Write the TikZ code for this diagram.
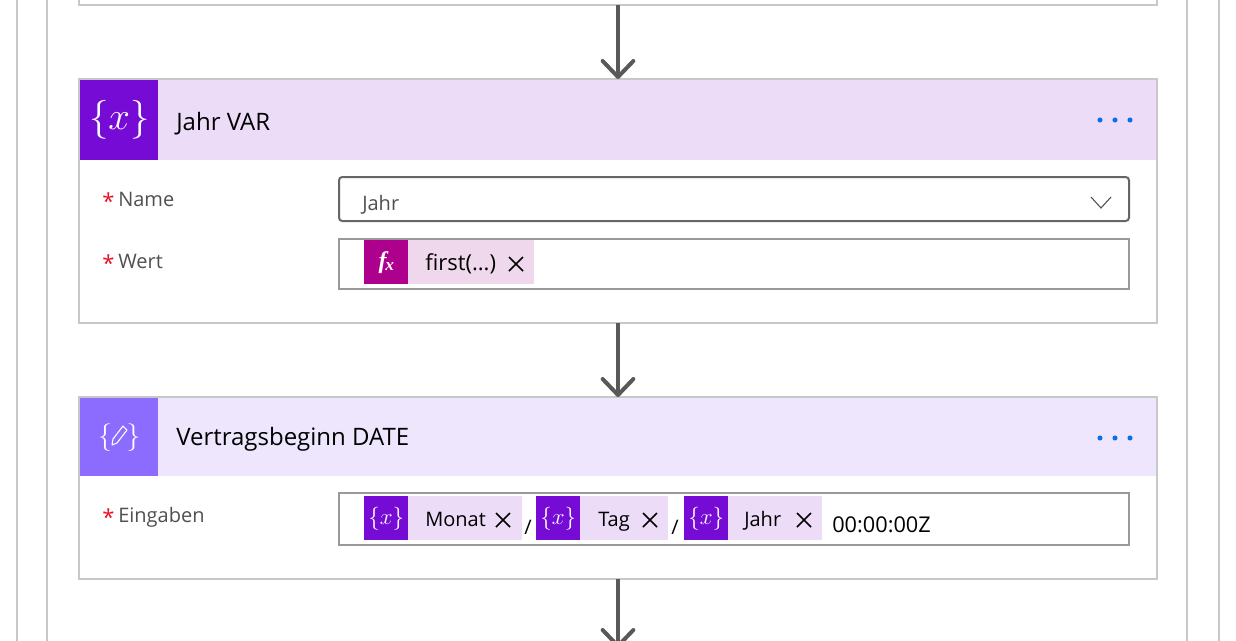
\documentclass[tikz,border=0pt]{standalone}
\usepackage{fontspec}
\setmainfont{Open Sans}
\newfontfamily\iconfont{Liberation Serif}
\usetikzlibrary{arrows.meta}
\definecolor{frameline}{HTML}{C8C8C8}
\definecolor{flowarrow}{HTML}{595959}
\definecolor{varhead}{HTML}{ECDCF8}
\definecolor{varicon}{HTML}{770BD6}
\definecolor{datehead}{HTML}{EDE6FD}
\definecolor{dateicon}{HTML}{8C6CFF}
\definecolor{fxicon}{HTML}{AD008C}
\definecolor{fxbody}{HTML}{F0D8EC}
\definecolor{labelgrey}{HTML}{505050}
\definecolor{starred}{HTML}{E81123}
\definecolor{dotblue}{HTML}{0F6FDE}
\begin{document}
\begin{tikzpicture}[x=0.75pt, y=-0.75pt,
	card/.style={draw=frameline, line width=1.5pt, fill=white, anchor=north west, inner sep=0pt, outer sep=0pt, minimum width=808.5pt},
	flow/.style={draw=flowarrow, line width=3pt, -{Straight Barb[length=12pt, width=23pt, round]}},
	title/.style={anchor=base west, font=\fontsize{18}{21}\selectfont, text=black, inner sep=0pt},
	field/.style={anchor=base west, font=\fontsize{15}{18}\selectfont, text=labelgrey, inner sep=0pt},
	value/.style={anchor=base west, font=\fontsize{15}{18}\selectfont, text=black, inner sep=0pt},
	star/.style={anchor=base west, font=\fontsize{16.5}{20}\selectfont, text=starred, inner sep=0pt},
	inputbox/.style={draw=#1, line width=1.5pt, anchor=north west, inner sep=0pt, outer sep=0pt, minimum width=592.5pt},
	tokenicon/.style={fill=#1, anchor=north west, inner sep=0pt, minimum width=33pt, minimum height=33pt, text=white},
	tokenbody/.style={fill=#1, anchor=north west, inner sep=0pt, minimum height=33pt},
	closex/.style={draw=black, line width=1.1pt}]
	\clip (0,0) rectangle (1236,640);
	\fill[white] (0,0) rectangle (1236,640);
	\foreach \xx in {17,47,1187,1219} {
		\draw[frameline, line width=1.5pt] (\xx,-5) -- (\xx,645);
	}
	% cards
	\node[card, minimum height=45pt] (prev) at (79,-55) {};
	\node[card, minimum height=183pt] (jahrcard) at (79,79) {};
	\node[card, minimum height=136.5pt] (datecard) at (79,397) {};
	\coordinate (next) at (618,648);
	\draw[flow] (prev.south) -- (jahrcard.north);
	\draw[flow] (jahrcard.south) -- (datecard.north);
	\draw[flow] (datecard.south) -- (next);
	% headers
	\fill[varhead] (80,80) rectangle (1156,160);
	\fill[datehead] (80,398) rectangle (1156,476);
	\node[anchor=north west, fill=varicon, inner sep=0pt, minimum width=58.5pt, minimum height=60pt, text=white, font=\fontsize{32}{34}\selectfont] (jahricon) at (80,80) {\scalebox{1.17}{$\{x\}$}};
	\node[anchor=north west, fill=dateicon, inner sep=0pt, minimum width=58.5pt, minimum height=58.5pt, text=white, font=\fontsize{21}{23}\selectfont] (dateicon) at (80,398) {$\{\hspace{11pt}\}$};
	\draw[white, line width=0.8pt, line join=round, fill=dateicon] (112,445) -- (113,439) -- (123,426) -- (127,430) -- (117,443) -- cycle;
	\node[title] (jahrtitle) at (176,130) {Jahr VAR};
	\node[title] (datetitle) at (176,445) {Vertragsbeginn DATE};
	\foreach \yy in {120,438} {
		\foreach \xx in {1100,1115,1130} {
			\fill[dotblue] (\xx,\yy) circle (1.9pt);
		}
	}
	% fields
	\foreach \yy/\lab in {206/Name,268/Wert,522/Eingaben} {
		\node[star] (star\lab) at (102,\yy+3) {*};
		\node[field] (\lab) at (118,\yy) {\lab};
	}
	\node[inputbox=black!60, rounded corners=2.5pt, minimum height=33pt] (namebox) at (339,177) {};
	\node[value, text=labelgrey] (nameval) at (362,210) {Jahr};
	\draw[labelgrey, line width=0.8pt] (1091,197) -- (1101,208) -- (1111,197);
	\node[inputbox=black!40, minimum height=37.5pt] (wertbox) at (339,239) {};
	\node[inputbox=black!40, minimum height=39pt] (datebox) at (339,493) {};
	% tokens
	\node[tokenbody=fxbody, minimum width=94.5pt] (fxtok) at (408,240) {};
	\node[tokenicon=fxicon, font=\iconfont\bfseries\itshape\fontsize{18}{18}\selectfont] (fxic) at (364,240) {f\kern-1pt\raisebox{-2pt}{\fontsize{13}{13}\selectfont x}};
	\node[value, font=\fontsize{16.5}{19}\selectfont] (fxtext) at (425,270) {first(...)};
	\draw[closex] (509,257) -- (523,271) (523,257) -- (509,271);
	\foreach \xa/\xb/\xt/\xc/\lab in {364/522/425/503/Monat,536/668/598/650/Tag,684/822/744/804/Jahr} {
		\node[tokenbody=varhead, minimum width={(\xb-\xa-44)*0.75pt}] (body\lab) at (\xa+44,496) {};
		\node[tokenicon=varicon, font=\fontsize{17.5}{18}\selectfont] (icon\lab) at (\xa,496) {$\{x\}$};
		\node[value] (text\lab) at (\xt,526) {\lab};
		\draw[closex] (\xc-7,513) -- (\xc+7,527) (\xc+7,513) -- (\xc-7,527);
	}
	\node[value] (slasha) at (524,534) {/};
	\node[value] (slashb) at (671,534) {/};
	\node[value, font=\fontsize{16.3}{19}\selectfont] (zeit) at (832,532) {00:00:00Z};
\end{tikzpicture}
\end{document}
